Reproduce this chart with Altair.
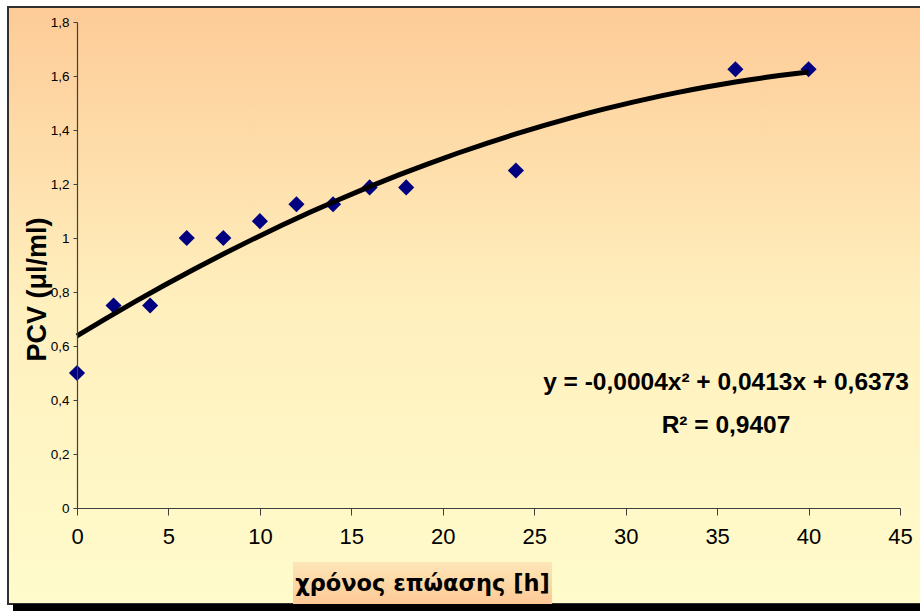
import altair as alt
import pandas as pd

# Incubation time (h) and packed cell volume (μl/ml)
hours = [0, 2, 4, 6, 8, 10, 12, 14, 16, 18, 24, 36, 40]
pcv = [0.5, 0.75, 0.75, 1.0, 1.0, 1.0625, 1.125, 1.125, 1.1875, 1.1875, 1.25, 1.625, 1.625]

x_ticks = [0, 5, 10, 15, 20, 25, 30, 35, 40, 45]
y_ticks = [0, 0.2, 0.4, 0.6, 0.8, 1.0, 1.2, 1.4, 1.6, 1.8]

equation_lines = ["y = -0,0004x² + 0,0413x + 0,6373", "R² = 0,9407"]

W, H = 823, 486
PAD = {"left": 77, "top": 22, "right": 20, "bottom": 103}

df = pd.DataFrame({"hours": hours, "pcv": pcv})
one = alt.Data(values=[{"k": 0}])

base = alt.Chart(df)

frame_fill = alt.Gradient(
    gradient="linear",
    stops=[alt.GradientStop(color="#FDCB97", offset=0),
           alt.GradientStop(color="#FFF0BE", offset=0.5),
           alt.GradientStop(color="#FFFBCB", offset=1)],
    x1=0, x2=0, y1=0, y2=1,
)
title_fill = alt.Gradient(
    gradient="linear",
    stops=[alt.GradientStop(color="#FEE6B8", offset=0),
           alt.GradientStop(color="#FDC996", offset=1)],
    x1=0, x2=0, y1=0, y2=1,
)

# chart frame with gradient fill
frame = alt.Chart(one).mark_rect(
    color=frame_fill, stroke="#303030", strokeWidth=2
).encode(
    x=alt.value(-69), x2=alt.value(W + 40),
    y=alt.value(-15), y2=alt.value(582),
)

# drop shadow along the bottom edge
shadow = alt.Chart(one).mark_rect(color="black").encode(
    x=alt.value(-64), x2=alt.value(W + 40),
    y=alt.value(582), y2=alt.value(592),
)

# shaded box behind the x-axis title
title_box = alt.Chart(one).mark_rect(color=title_fill).encode(
    x=alt.value(216), x2=alt.value(475),
    y=alt.value(540), y2=alt.value(582),
)

x_enc = alt.X(
    "hours:Q",
    scale=alt.Scale(domain=[0, 45], nice=False),
    axis=alt.Axis(
        values=x_ticks, title="χρόνος επώασης [h]", grid=False,
        labelFontSize=22, labelFont="Liberation Sans", labelColor="black",
        labelPadding=11, labelFlush=False, tickSize=7, tickColor="#404040",
        domainColor="#404040", domainWidth=1.2,
        titleFont="DejaVu Sans", titleFontSize=22.5, titleFontWeight="bold",
        titleColor="black", titleX=345, titleY=75, titleBaseline="middle",
        zindex=1,
    ),
)
y_enc = alt.Y(
    "pcv:Q",
    scale=alt.Scale(domain=[0, 1.8], nice=False),
    axis=alt.Axis(
        values=y_ticks, title="PCV (μl/ml)", grid=False,
        labelExpr="replace(format(datum.value, '.1~f'), '.', ',')",
        labelFontSize=13.5, labelFont="Liberation Sans", labelColor="black",
        labelPadding=4, labelFlush=False, tickSize=4, tickColor="#404040",
        domainColor="#404040", domainWidth=1.2,
        titleFont="Liberation Sans", titleFontSize=27, titleFontWeight="bold",
        titleColor="black", titleX=-40, titleY=267, titleBaseline="middle",
        zindex=1,
    ),
)

points = base.mark_point(
    shape="diamond", filled=True, color="#000080", opacity=1, size=260
).encode(x=x_enc, y=y_enc)

trend = base.transform_regression(
    "hours", "pcv", method="poly", order=2, extent=[0, 40]
).mark_line(color="black", strokeWidth=5).encode(x="hours:Q", y="pcv:Q")

eq_df = pd.DataFrame({"line": equation_lines, "row": [0, 1]})


def equation_row(row, ypix):
    return alt.Chart(eq_df).mark_text(
        font="Liberation Sans", fontSize=24.5, fontWeight="bold", color="black",
        align="center", baseline="alphabetic",
    ).encode(
        text="line:N", x=alt.value(649), y=alt.value(ypix),
    ).transform_filter(f"datum.row == {row}")


equation = equation_row(0, 368)
equation2 = equation_row(1, 411)

chart = alt.layer(
    frame, shadow, title_box, points, trend, equation, equation2
).properties(
    width=W, height=H, padding=PAD, autosize="none", background="white"
).configure_view(stroke=None)

chart.save("out.html", embed_options={"renderer": "svg", "actions": False})
